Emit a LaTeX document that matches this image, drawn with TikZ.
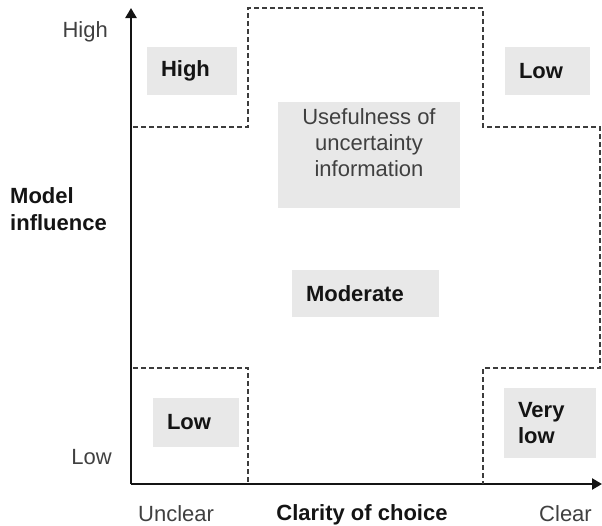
\documentclass[tikz,border=0pt]{standalone}
\usepackage{fontspec}
\setmainfont{Liberation Sans}
\usepackage{tikz}
\usetikzlibrary{arrows.meta,positioning}
\definecolor{ink}{HTML}{141414}
\definecolor{softink}{HTML}{404040}
\definecolor{cellfill}{HTML}{E8E8E8}
\definecolor{dashline}{HTML}{3C3C3C}

\begin{document}
\begin{tikzpicture}[
  x=1pt, y=-1pt,
  every node/.style={font=\fontsize{22}{26}\selectfont},
  cell/.style={rectangle, fill=cellfill, inner ysep=0pt, inner xsep=14pt,
    align=left, text=ink, font=\fontsize{22}{26}\selectfont\bfseries},
  tick/.style={text=softink, inner sep=0pt},
  axtitle/.style={text=ink, inner sep=0pt, align=left, font=\fontsize{22}{27}\selectfont\bfseries},
  axis/.style={-{Triangle[length=10pt,width=11pt]}, line width=2.4pt, draw=ink},
  zone/.style={dash pattern=on 5pt off 3pt, line width=1.3pt, draw=dashline},
]
\useasboundingbox (0,0) rectangle (602,525);

% axes
\coordinate (o) at (131,484);
\coordinate (ytip) at (131,8);
\coordinate (xtip) at (602,484);
\draw[axis] (o) -- (ytip);
\draw[axis] (o) -- (xtip);

% zone borders
\coordinate (tl1) at (133,127);
\coordinate (tl2) at (248,127);
\coordinate (tl3) at (248,8);
\coordinate (tr1) at (483,8);
\coordinate (tr2) at (483,127);
\coordinate (tr3) at (600,127);
\coordinate (br1) at (600,368);
\coordinate (br2) at (483,368);
\coordinate (br3) at (483,484);
\coordinate (bl1) at (133,368);
\coordinate (bl2) at (248,368);
\coordinate (bl3) at (248,484);
\draw[zone] (tl1) -- (tl2) -- (tl3) -- (tr1) -- (tr2) -- (tr3) -- (br1) -- (br2) -- (br3);
\draw[zone] (bl1) -- (bl2) -- (bl3);

% cells
\node[cell, text width=62pt, minimum height=48pt] (high) at (192,71) {High};
\node[cell, text width=57pt, minimum height=48pt] (lowtop) at (547.5,71) {Low};
\node[cell, text width=119pt, minimum height=47pt] (moderate) at (365.5,293.5) {Moderate};
\node[cell, text width=58pt, minimum height=49pt] (lowbot) at (196,422.5) {Low};
\node[cell, text width=64pt, minimum height=70pt] (verylow) at (550,423) {Very\\low};
\node[rectangle, fill=cellfill, minimum width=182pt, minimum height=106pt] (useful) at (369,155) {};
\node[align=center, text=softink, inner sep=0pt] (usefultext) at (369,143) {Usefulness of\\uncertainty\\information};

% axis labels
\node[tick, anchor=base east] (yhigh) at (108,37) {High};
\node[tick, anchor=base east] (ylow) at (112,464) {Low};
\node[axtitle, anchor=west] (ytitle) at (10,209) {Model\\influence};
\node[tick, anchor=base west] (xunclear) at (138,521) {Unclear};
\node[axtitle, anchor=base] (xtitle) at (362,520) {Clarity of choice};
\node[tick, anchor=base east] (xclear) at (592,521) {Clear};
\end{tikzpicture}
\end{document}
